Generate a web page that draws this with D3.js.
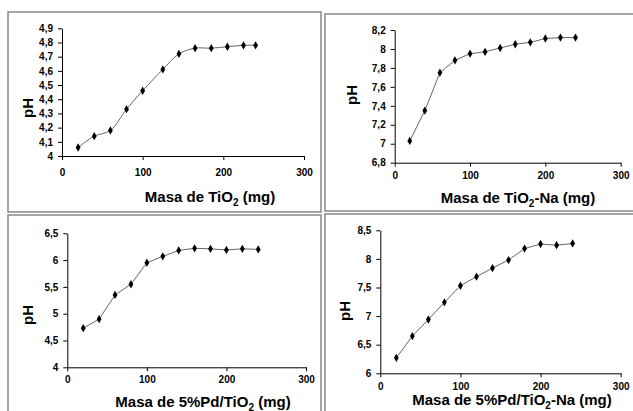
<!DOCTYPE html>
<html>
<head>
<meta charset="utf-8">
<script src="https://cdn.jsdelivr.net/npm/d3@7"></script>
<style>
  body { margin: 0; background: #fff; }
  svg { display: block; font-family: Arial, "Liberation Sans", sans-serif; }
  .tick text { font-size: 10px; font-weight: bold; fill: #000; }
  .title { font-size: 15px; font-weight: bold; fill: #000; }
</style>
</head>
<body>
<svg id="chart" width="633" height="411"></svg>
<script>
// ---- data ----
var massTiO2 = [20, 40, 60, 80, 100, 125, 145, 165, 185, 205, 225, 240];
var phTiO2 = [4.06, 4.14, 4.18, 4.33, 4.46, 4.61, 4.72, 4.76, 4.76, 4.77, 4.78, 4.78];

var massTiO2Na = [20, 40, 60, 80, 100, 120, 140, 160, 180, 200, 220, 240];
var phTiO2Na = [7.03, 7.35, 7.75, 7.88, 7.95, 7.97, 8.01, 8.05, 8.07, 8.11, 8.12, 8.12];

var massPd = [20, 40, 60, 80, 100, 120, 140, 160, 180, 200, 220, 240];
var phPd = [4.73, 4.90, 5.35, 5.55, 5.95, 6.07, 6.18, 6.22, 6.21, 6.19, 6.21, 6.20];

var massPdNa = [20, 40, 60, 80, 100, 120, 140, 160, 180, 200, 220, 240];
var phPdNa = [6.27, 6.65, 6.94, 7.24, 7.53, 7.69, 7.84, 7.98, 8.18, 8.26, 8.24, 8.27];

var xTicks = [0, 100, 200, 300];
var yTicksTiO2 = [4, 4.1, 4.2, 4.3, 4.4, 4.5, 4.6, 4.7, 4.8, 4.9];
var yTicksTiO2Na = [6.8, 7, 7.2, 7.4, 7.6, 7.8, 8, 8.2];
var yTicksPd = [4, 4.5, 5, 5.5, 6, 6.5];
var yTicksPdNa = [6, 6.5, 7, 7.5, 8, 8.5];

// title pieces: before subscript, subscript, after
var titleTiO2 = ["Masa de TiO", "2", " (mg)"];
var titleTiO2Na = ["Masa de TiO", "2", "-Na (mg)"];
var titlePd = ["Masa de 5%Pd/TiO", "2", " (mg)"];
var titlePdNa = ["Masa de 5%Pd/TiO", "2", "-Na (mg)"];

var fmt = d3.formatLocale({decimal: ",", thousands: ".", grouping: [3], currency: ["", ""]}).format(".1~f");

var svg = d3.select("#chart");

// layout of each panel (frame box, plot box, label spots)
var panels = [
  {x: massTiO2, y: phTiO2, yTicks: yTicksTiO2, title: titleTiO2, smooth: true,
   frame: [8, 12, 313, 200], plot: [62, 28.3, 304, 156], xPad: 9,
   ph: [27, 108], tx: [210, 201.5]},
  {x: massTiO2Na, y: phTiO2Na, yTicks: yTicksTiO2Na, title: titleTiO2Na, smooth: false,
   frame: [325, 14, 320, 197], plot: [394.7, 30, 620.7, 162.7], xPad: 5,
   ph: [351, 95], tx: [518, 202.5]},
  {x: massPd, y: phPd, yTicks: yTicksPd, title: titlePd, smooth: false,
   frame: [8, 215, 313, 210], plot: [67.3, 233.3, 306, 367.3], xPad: 5,
   ph: [27.5, 315], tx: [203, 406.5]},
  {x: massPdNa, y: phPdNa, yTicks: yTicksPdNa, title: titlePdNa, smooth: false,
   frame: [325, 214, 320, 210], plot: [380.3, 230.3, 620.7, 373.3], xPad: 6,
   ph: [344, 311], tx: [512, 405]}
];

panels.forEach(function(p) {
  svg.append("rect")
    .attr("x", p.frame[0]).attr("y", p.frame[1])
    .attr("width", p.frame[2]).attr("height", p.frame[3])
    .attr("fill", "none").attr("stroke", "#8f8f8f").attr("stroke-width", 1.6);

  var xs = d3.scaleLinear().domain([0, 300]).range([p.plot[0], p.plot[2]]);
  var ys = d3.scaleLinear().domain([p.yTicks[0], p.yTicks[p.yTicks.length - 1]]).range([p.plot[3], p.plot[1]]);

  var gx = svg.append("g")
    .attr("transform", "translate(0," + p.plot[3] + ")")
    .call(d3.axisBottom(xs).tickValues(xTicks).tickSize(4).tickPadding(p.xPad).tickSizeOuter(0).tickFormat(fmt));
  var gy = svg.append("g")
    .attr("transform", "translate(" + p.plot[0] + ",0)")
    .call(d3.axisLeft(ys).tickValues(p.yTicks).tickSize(4).tickPadding(5).tickSizeOuter(0).tickFormat(fmt));
  [gx, gy].forEach(function(g) {
    g.select(".domain").attr("stroke", "#000").attr("stroke-width", 1);
    g.selectAll(".tick line").attr("stroke", "#000");
  });

  var pts = p.x.map(function(v, i) { return [v, p.y[i]]; });
  var line = d3.line()
    .x(function(d) { return xs(d[0]); })
    .y(function(d) { return ys(d[1]); })
    .curve(p.smooth ? d3.curveCatmullRom.alpha(0.5) : d3.curveLinear);

  svg.append("path").datum(pts)
    .attr("d", line).attr("fill", "none")
    .attr("stroke", "#666").attr("stroke-width", 1);

  svg.append("g").selectAll("path").data(pts).enter().append("path")
    .attr("d", d3.symbol().type(d3.symbolDiamond).size(20))
    .attr("transform", function(d) { return "translate(" + xs(d[0]) + "," + ys(d[1]) + ")"; })
    .attr("fill", "#000");

  svg.append("text").attr("class", "title")
    .attr("transform", "translate(" + p.ph[0] + "," + p.ph[1] + ") rotate(-90)")
    .attr("text-anchor", "middle").attr("dominant-baseline", "central")
    .text("pH");

  var t = svg.append("text").attr("class", "title")
    .attr("x", p.tx[0]).attr("y", p.tx[1]).attr("text-anchor", "middle");
  t.append("tspan").text(p.title[0]);
  t.append("tspan").attr("dy", 4).style("font-size", "10px").text(p.title[1]);
  t.append("tspan").attr("dy", -4).text(p.title[2]);
});
</script>
</body>
</html>
